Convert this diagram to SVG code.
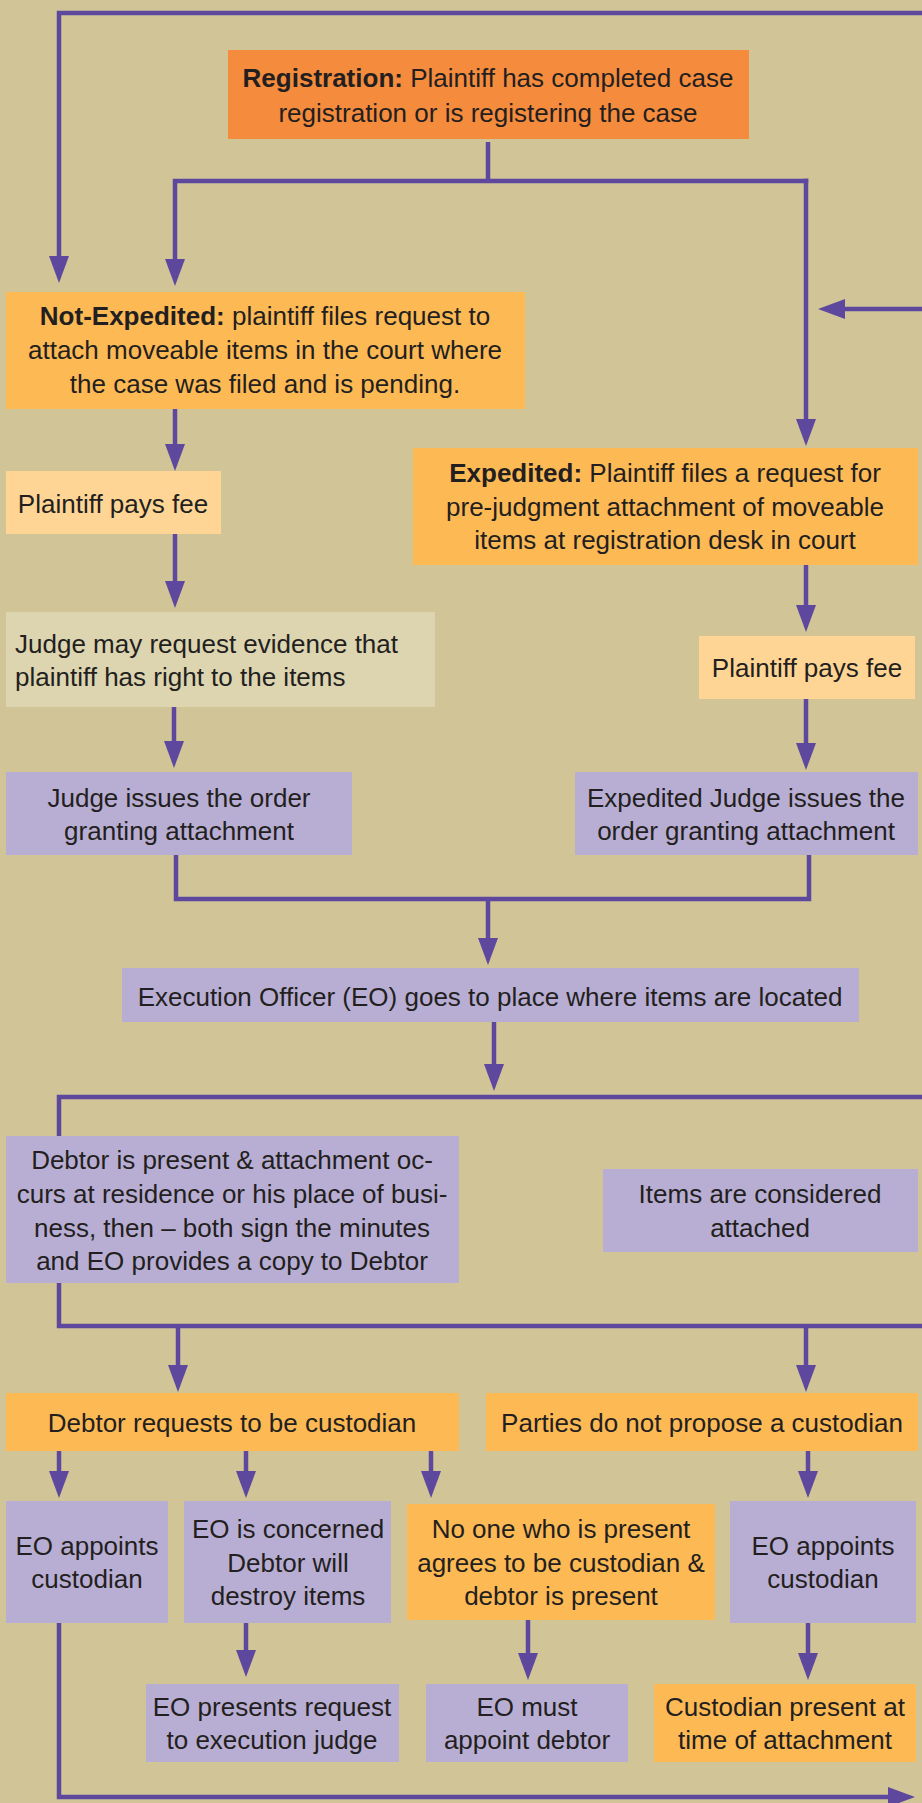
<svg xmlns="http://www.w3.org/2000/svg" width="922" height="1803" viewBox="0 0 922 1803">
<defs>
<marker id="ah" markerUnits="userSpaceOnUse" markerWidth="28" markerHeight="22" refX="17" refY="10" orient="auto">
<path d="M0,0 L27,10 L0,20 Z" fill="#5E489E"/>
</marker>
<style>
.c{fill:none;stroke:#5E489E;stroke-width:4.5}
.a{marker-end:url(#ah)}
.t{font-family:"Liberation Sans",Arial,sans-serif;font-size:26px;fill:#231F20;text-anchor:middle}
.l{text-anchor:start}
.b{font-weight:bold}
.or{fill:#F58B3D}
.lo{fill:#FDB954}
.pa{fill:#FED594}
.be{fill:#DCD5B0}
.pu{fill:#B8AED3}
</style>
</defs>
<rect width="922" height="1803" fill="#D1C598"/>
<g id="connectors">
<path class="c a" d="M922,13 H59 V273"/>
<path class="c" d="M488,142 V181"/>
<path class="c a" d="M808.25,181 H175 V276"/>
<path class="c a" d="M806,178.75 V436"/>
<path class="c a" d="M922,309 H828"/>
<path class="c a" d="M175,409 V461"/>
<path class="c a" d="M175,534 V598"/>
<path class="c a" d="M174,707 V758"/>
<path class="c a" d="M806,565 V622"/>
<path class="c a" d="M806,699 V760"/>
<path class="c" d="M176,855 V899 H809 V855"/>
<path class="c a" d="M488,899 V955"/>
<path class="c a" d="M494,1022 V1081"/>
<path class="c" d="M922,1097 H59 V1326 H922"/>
<path class="c a" d="M178,1326 V1382"/>
<path class="c a" d="M806,1326 V1382"/>
<path class="c a" d="M59,1451 V1488"/>
<path class="c a" d="M246,1451 V1488"/>
<path class="c a" d="M431,1451 V1488"/>
<path class="c a" d="M808,1451 V1488"/>
<path class="c a" d="M246,1623 V1667"/>
<path class="c a" d="M528,1620 V1670"/>
<path class="c a" d="M808,1623 V1670"/>
<path class="c a" d="M59,1623 V1797 H905"/>
</g>
<g id="registration">
<rect class="or" x="228" y="50" width="521" height="89"/>
<text class="t" x="488" y="87"><tspan class="b">Registration:</tspan> Plaintiff has completed case</text>
<text class="t" x="488" y="122">registration or is registering the case</text>
</g>
<g id="not-expedited">
<rect class="lo" x="6" y="292" width="519" height="117"/>
<text class="t" x="265" y="325"><tspan class="b">Not-Expedited:</tspan> plaintiff files request to</text>
<text class="t" x="265" y="359">attach moveable items in the court where</text>
<text class="t" x="265" y="393">the case was filed and is pending.</text>
</g>
<g id="pay-fee-left">
<rect class="pa" x="6" y="471" width="215" height="63"/>
<text class="t" x="113" y="513">Plaintiff pays fee</text>
</g>
<g id="expedited">
<rect class="lo" x="413" y="448" width="505" height="117"/>
<text class="t" x="665" y="482"><tspan class="b">Expedited:</tspan> Plaintiff files a request for</text>
<text class="t" x="665" y="516">pre-judgment attachment of moveable</text>
<text class="t" x="665" y="549">items at registration desk in court</text>
</g>
<g id="judge-may-request">
<rect class="be" x="6" y="612" width="429" height="95"/>
<text class="t l" x="15" y="653">Judge may request evidence that</text>
<text class="t l" x="15" y="686">plaintiff has right to the items</text>
</g>
<g id="pay-fee-right">
<rect class="pa" x="699" y="636" width="216" height="63"/>
<text class="t" x="807" y="677">Plaintiff pays fee</text>
</g>
<g id="judge-issues">
<rect class="pu" x="6" y="772" width="346" height="83"/>
<text class="t" x="179" y="807">Judge issues the order</text>
<text class="t" x="179" y="840">granting attachment</text>
</g>
<g id="expedited-judge-issues">
<rect class="pu" x="575" y="772" width="343" height="83"/>
<text class="t" x="746" y="807">Expedited Judge issues the</text>
<text class="t" x="746" y="840">order granting attachment</text>
</g>
<g id="eo-goes">
<rect class="pu" x="122" y="968" width="737" height="54"/>
<text class="t" x="490" y="1006">Execution Officer (EO) goes to place where items are located</text>
</g>
<g id="debtor-present">
<rect class="pu" x="6" y="1136" width="453" height="147"/>
<text class="t" x="232" y="1169">Debtor is present &amp; attachment oc-</text>
<text class="t" x="232" y="1203">curs at residence or his place of busi-</text>
<text class="t" x="232" y="1237">ness, then – both sign the minutes</text>
<text class="t" x="232" y="1270">and EO provides a copy to Debtor</text>
</g>
<g id="items-attached">
<rect class="pu" x="603" y="1169" width="315" height="83"/>
<text class="t" x="760" y="1203">Items are considered</text>
<text class="t" x="760" y="1237">attached</text>
</g>
<g id="debtor-requests">
<rect class="lo" x="6" y="1393" width="453" height="58"/>
<text class="t" x="232" y="1432">Debtor requests to be custodian</text>
</g>
<g id="parties-no-propose">
<rect class="lo" x="486" y="1393" width="432" height="58"/>
<text class="t" x="702" y="1432">Parties do not propose a custodian</text>
</g>
<g id="eo-appoints-left">
<rect class="pu" x="6" y="1501" width="162" height="122"/>
<text class="t" x="87" y="1555">EO appoints</text>
<text class="t" x="87" y="1588">custodian</text>
</g>
<g id="eo-concerned">
<rect class="pu" x="184" y="1501" width="207" height="122"/>
<text class="t" x="288" y="1538">EO is concerned</text>
<text class="t" x="288" y="1572">Debtor will</text>
<text class="t" x="288" y="1605">destroy items</text>
</g>
<g id="no-one-present">
<rect class="lo" x="407" y="1504" width="308" height="116"/>
<text class="t" x="561" y="1538">No one who is present</text>
<text class="t" x="561" y="1572">agrees to be custodian &amp;</text>
<text class="t" x="561" y="1605">debtor is present</text>
</g>
<g id="eo-appoints-right">
<rect class="pu" x="730" y="1501" width="186" height="122"/>
<text class="t" x="823" y="1555">EO appoints</text>
<text class="t" x="823" y="1588">custodian</text>
</g>
<g id="eo-presents">
<rect class="pu" x="146" y="1684" width="253" height="78"/>
<text class="t" x="272" y="1716">EO presents request</text>
<text class="t" x="272" y="1749">to execution judge</text>
</g>
<g id="eo-must-appoint">
<rect class="pu" x="426" y="1684" width="202" height="78"/>
<text class="t" x="527" y="1716">EO must</text>
<text class="t" x="527" y="1749">appoint debtor</text>
</g>
<g id="custodian-present">
<rect class="lo" x="654" y="1684" width="262" height="78"/>
<text class="t" x="785" y="1716">Custodian present at</text>
<text class="t" x="785" y="1749">time of attachment</text>
</g>
</svg>
